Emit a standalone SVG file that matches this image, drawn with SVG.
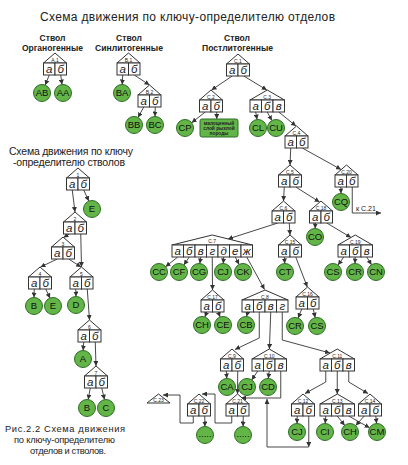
<svg xmlns="http://www.w3.org/2000/svg" width="408" height="465" viewBox="0 0 408 465">
<defs>
<marker id="ah" markerUnits="userSpaceOnUse" markerWidth="5" markerHeight="5" refX="5" refY="2.5" orient="auto"><path d="M0,0 L5,2.5 L0,5 z" fill="#333"/></marker>
<style>
text{font-family:"Liberation Sans",Arial,sans-serif;fill:#222}
.bx{fill:#fff;stroke:#333;stroke-width:1}
.rf{fill:#fff;stroke:#333;stroke-width:1;stroke-linejoin:miter}
.lt{font-style:italic;font-size:11.5px;text-anchor:middle}
.rl{font-size:5px;text-anchor:middle}
.cr{fill:#63b548;stroke:#2d6e24;stroke-width:1}
.ct{font-size:9.5px;text-anchor:middle;fill:#111}
.ln{fill:none;stroke:#333;stroke-width:0.9;marker-end:url(#ah)}
.ti{font-size:12px}
.lh{font-size:10.5px}
.cp{font-size:9.3px}
.st{font-size:8.5px;font-weight:bold;text-anchor:middle}
</style>
</defs>
<rect width="408" height="465" fill="#fff"/>
<g id="titles">
<text class="ti" x="40" y="21" textLength="295" lengthAdjust="spacing">Схема движения по ключу-определителю отделов</text>
<text class="st" x="52.5" y="40.5">Ствол</text>
<text class="st" x="52.5" y="50.5" textLength="61" lengthAdjust="spacingAndGlyphs">Органогенные</text>
<text class="st" x="129" y="40.5">Ствол</text>
<text class="st" x="129" y="50.5" textLength="68" lengthAdjust="spacingAndGlyphs">Синлитогенные</text>
<text class="st" x="237" y="40.5">Ствол</text>
<text class="st" x="237.5" y="50.5" textLength="71" lengthAdjust="spacingAndGlyphs">Постлитогенные</text>
<text class="lh" x="9" y="155" textLength="124" lengthAdjust="spacing">Схема движения по ключу</text>
<text class="lh" x="13" y="166" textLength="112" lengthAdjust="spacing">-определителю стволов</text>
<text class="cp" x="5" y="432" textLength="120" lengthAdjust="spacing">Рис.2.2  Схема движения</text>
<text class="cp" x="14" y="443" textLength="101" lengthAdjust="spacing">по ключу-определителю</text>
<text class="cp" x="30" y="454" textLength="76" lengthAdjust="spacing">отделов и стволов.</text>
<text x="356" y="210.5" font-size="7">к С.21</text>
</g>

<g id="connectors">
<line class="ln" x1="49.25" y1="75" x2="45.2" y2="85.1"/>
<line class="ln" x1="60.75" y1="75" x2="62" y2="84.6"/>
<line class="ln" x1="122.75" y1="75" x2="122.2" y2="84.5"/>
<line class="ln" x1="134.25" y1="75" x2="149.5" y2="85"/>
<line class="ln" x1="143.75" y1="107" x2="138" y2="117.5"/>
<line class="ln" x1="155.25" y1="107" x2="155" y2="116.5"/>
<line class="ln" x1="232.25" y1="76" x2="211.5" y2="90"/>
<line class="ln" x1="243.75" y1="76" x2="266.8" y2="90"/>
<line class="ln" x1="205.25" y1="112" x2="191.7" y2="122.7"/>
<line class="ln" x1="216.75" y1="112" x2="216.75" y2="119"/>
<line class="ln" x1="255.75" y1="112" x2="257" y2="119.5"/>
<line class="ln" x1="267.25" y1="112" x2="271.9" y2="120.5"/>
<line class="ln" x1="278.75" y1="112" x2="296" y2="126"/>
<line class="ln" x1="290.75" y1="148" x2="290" y2="165"/>
<line class="ln" x1="302.25" y1="148" x2="341" y2="169.5"/>
<line class="ln" x1="284.25" y1="187" x2="283.5" y2="201"/>
<line class="ln" x1="295.75" y1="187" x2="319.5" y2="202"/>
<line class="ln" x1="340.75" y1="187" x2="341" y2="193.5"/>
<polyline class="ln" points="352.25,187 352.25,213 381,213"/>
<line class="ln" x1="277.75" y1="223" x2="228" y2="239"/>
<line class="ln" x1="289.25" y1="223" x2="290" y2="235"/>
<line class="ln" x1="315.25" y1="223" x2="315.2" y2="228.5"/>
<line class="ln" x1="326.75" y1="223" x2="351" y2="237.5"/>
<line class="ln" x1="284.25" y1="257" x2="284.8" y2="263.5"/>
<line class="ln" x1="295.75" y1="257" x2="307.3" y2="287"/>
<line class="ln" x1="343.75" y1="257" x2="338" y2="265.1"/>
<line class="ln" x1="355.25" y1="257" x2="355" y2="263.5"/>
<line class="ln" x1="366.75" y1="257" x2="371.5" y2="264.8"/>
<line class="ln" x1="301.75" y1="309" x2="298.1" y2="318.1"/>
<line class="ln" x1="313.25" y1="309" x2="315.2" y2="317.7"/>
<line class="ln" x1="177.75" y1="257" x2="165.6" y2="266.7"/>
<line class="ln" x1="189.25" y1="257" x2="183.8" y2="265"/>
<line class="ln" x1="200.75" y1="257" x2="199.8" y2="263.6"/>
<line class="ln" x1="212.25" y1="257" x2="212.5" y2="290"/>
<line class="ln" x1="223.75" y1="257" x2="223.2" y2="263.5"/>
<line class="ln" x1="235.25" y1="257" x2="239.1" y2="264.5"/>
<line class="ln" x1="246.75" y1="257" x2="264.5" y2="289.5"/>
<line class="ln" x1="206.75" y1="312" x2="204.9" y2="317"/>
<line class="ln" x1="218.25" y1="312" x2="220.1" y2="317"/>
<line class="ln" x1="247.75" y1="312" x2="246.5" y2="316.6"/>
<polyline class="ln" points="259.25,312 259.25,338 235,349.5"/>
<line class="ln" x1="270.75" y1="312" x2="269.4" y2="349"/>
<polyline class="ln" points="282.25,312 282.25,340 330,353"/>
<line class="ln" x1="226.25" y1="371" x2="226.8" y2="378.5"/>
<line class="ln" x1="237.75" y1="371" x2="237.5" y2="394"/>
<line class="ln" x1="257.75" y1="371" x2="251.7" y2="380"/>
<line class="ln" x1="269.25" y1="371" x2="268.3" y2="378.5"/>
<polyline class="ln" points="280.75,371 280.75,398 241,398"/>
<polyline class="ln" points="325.75,371 325.75,382 305,393.5"/>
<line class="ln" x1="337.25" y1="371" x2="337.25" y2="394"/>
<polyline class="ln" points="348.75,371 348.75,382 368,393.5"/>
<line class="ln" x1="297.25" y1="416" x2="297" y2="423.5"/>
<line class="ln" x1="308.75" y1="416" x2="308.75" y2="447"/>
<polyline class="ln" points="308.75,447 267,447 267,399"/>
<line class="ln" x1="325.75" y1="416" x2="325.2" y2="423.5"/>
<line class="ln" x1="337.25" y1="416" x2="344.7" y2="425.4"/>
<line class="ln" x1="348.75" y1="416" x2="369.6" y2="427.8"/>
<line class="ln" x1="364.25" y1="416" x2="355.7" y2="425.6"/>
<line class="ln" x1="375.75" y1="416" x2="376.6" y2="423.5"/>
<polyline class="ln" points="231.75,416 231.75,423 215,423 215,394 202,394"/>
<line class="ln" x1="243.25" y1="416" x2="243.1" y2="426.5"/>
<polyline class="ln" points="193.25,416 193.25,423 180,423 180,395 163,395"/>
<line class="ln" x1="204.75" y1="416" x2="204.9" y2="426.5"/>
<line class="ln" x1="72.25" y1="190" x2="75" y2="212"/>
<line class="ln" x1="83.75" y1="190" x2="88.8" y2="201.1"/>
<line class="ln" x1="69.25" y1="234" x2="63.5" y2="237.5"/>
<line class="ln" x1="80.75" y1="234" x2="81.5" y2="267"/>
<line class="ln" x1="57.25" y1="259" x2="40.5" y2="267"/>
<line class="ln" x1="68.75" y1="259" x2="81" y2="267"/>
<line class="ln" x1="34.25" y1="289" x2="34" y2="297.5"/>
<line class="ln" x1="45.75" y1="289" x2="50" y2="298.3"/>
<line class="ln" x1="75.75" y1="289" x2="76" y2="296.5"/>
<line class="ln" x1="87.25" y1="289" x2="89.5" y2="320"/>
<line class="ln" x1="83.75" y1="342" x2="83.1" y2="350.5"/>
<line class="ln" x1="95.25" y1="342" x2="96" y2="366"/>
<line class="ln" x1="90.25" y1="388" x2="88.2" y2="399.6"/>
<line class="ln" x1="101.75" y1="388" x2="104.5" y2="399.6"/>
</g>

<g id="A1"><polygon class="rf" points="43.5,63 55,53 66.5,63"/><rect class="bx" x="43.5" y="63" width="11.5" height="12"/><rect class="bx" x="55" y="63" width="11.5" height="12"/><text class="rl" x="55" y="61.5">A.1</text><text class="lt" x="49.25" y="73">а</text><text class="lt" x="60.75" y="73">б</text></g>
<g id="B1"><polygon class="rf" points="117,63 128.5,53 140,63"/><rect class="bx" x="117" y="63" width="11.5" height="12"/><rect class="bx" x="128.5" y="63" width="11.5" height="12"/><text class="rl" x="128.5" y="61.5">B.1</text><text class="lt" x="122.75" y="73">а</text><text class="lt" x="134.25" y="73">б</text></g>
<g id="B2"><polygon class="rf" points="138,95 149.5,85 161,95"/><rect class="bx" x="138" y="95" width="11.5" height="12"/><rect class="bx" x="149.5" y="95" width="11.5" height="12"/><text class="rl" x="149.5" y="93.5">B.2</text><text class="lt" x="143.75" y="105">а</text><text class="lt" x="155.25" y="105">б</text></g>
<g id="C1"><polygon class="rf" points="226.5,64 238,54 249.5,64"/><rect class="bx" x="226.5" y="64" width="11.5" height="12"/><rect class="bx" x="238" y="64" width="11.5" height="12"/><text class="rl" x="238" y="62.5">C.1</text><text class="lt" x="232.25" y="74">а</text><text class="lt" x="243.75" y="74">б</text></g>
<g id="C2"><polygon class="rf" points="199.5,100 211,90 222.5,100"/><rect class="bx" x="199.5" y="100" width="11.5" height="12"/><rect class="bx" x="211" y="100" width="11.5" height="12"/><text class="rl" x="211" y="98.5">C.2</text><text class="lt" x="205.25" y="110">а</text><text class="lt" x="216.75" y="110">б</text></g>
<g id="C3"><polygon class="rf" points="250,100 267.25,90 284.5,100"/><rect class="bx" x="250" y="100" width="11.5" height="12"/><rect class="bx" x="261.5" y="100" width="11.5" height="12"/><rect class="bx" x="273" y="100" width="11.5" height="12"/><text class="rl" x="267.25" y="98.5">C.3</text><text class="lt" x="255.75" y="110">а</text><text class="lt" x="267.25" y="110">б</text><text class="lt" x="278.75" y="110">в</text></g>
<g id="C4"><polygon class="rf" points="285,136 296.5,126 308,136"/><rect class="bx" x="285" y="136" width="11.5" height="12"/><rect class="bx" x="296.5" y="136" width="11.5" height="12"/><text class="rl" x="296.5" y="134.5">C.4</text><text class="lt" x="290.75" y="146">а</text><text class="lt" x="302.25" y="146">б</text></g>
<g id="C5"><polygon class="rf" points="278.5,175 290,165 301.5,175"/><rect class="bx" x="278.5" y="175" width="11.5" height="12"/><rect class="bx" x="290" y="175" width="11.5" height="12"/><text class="rl" x="290" y="173.5">C.5</text><text class="lt" x="284.25" y="185">а</text><text class="lt" x="295.75" y="185">б</text></g>
<g id="C20"><polygon class="rf" points="335,175 346.5,165 358,175"/><rect class="bx" x="335" y="175" width="11.5" height="12"/><rect class="bx" x="346.5" y="175" width="11.5" height="12"/><text class="rl" x="346.5" y="173.5">C.20</text><text class="lt" x="340.75" y="185">а</text><text class="lt" x="352.25" y="185">б</text></g>
<g id="C6"><polygon class="rf" points="272,211 283.5,201 295,211"/><rect class="bx" x="272" y="211" width="11.5" height="12"/><rect class="bx" x="283.5" y="211" width="11.5" height="12"/><text class="rl" x="283.5" y="209.5">C.6</text><text class="lt" x="277.75" y="221">а</text><text class="lt" x="289.25" y="221">б</text></g>
<g id="C18"><polygon class="rf" points="309.5,211 321,201 332.5,211"/><rect class="bx" x="309.5" y="211" width="11.5" height="12"/><rect class="bx" x="321" y="211" width="11.5" height="12"/><text class="rl" x="321" y="209.5">C.18</text><text class="lt" x="315.25" y="221">а</text><text class="lt" x="326.75" y="221">б</text></g>
<g id="C15"><polygon class="rf" points="278.5,245 290,235 301.5,245"/><rect class="bx" x="278.5" y="245" width="11.5" height="12"/><rect class="bx" x="290" y="245" width="11.5" height="12"/><text class="rl" x="290" y="243.5">C.15</text><text class="lt" x="284.25" y="255">а</text><text class="lt" x="295.75" y="255">б</text></g>
<g id="C19"><polygon class="rf" points="338,245 355.25,235 372.5,245"/><rect class="bx" x="338" y="245" width="11.5" height="12"/><rect class="bx" x="349.5" y="245" width="11.5" height="12"/><rect class="bx" x="361" y="245" width="11.5" height="12"/><text class="rl" x="355.25" y="243.5">C.19</text><text class="lt" x="343.75" y="255">а</text><text class="lt" x="355.25" y="255">б</text><text class="lt" x="366.75" y="255">в</text></g>
<g id="C16"><polygon class="rf" points="296,297 307.5,287 319,297"/><rect class="bx" x="296" y="297" width="11.5" height="12"/><rect class="bx" x="307.5" y="297" width="11.5" height="12"/><text class="rl" x="307.5" y="295.5">C.16</text><text class="lt" x="301.75" y="307">а</text><text class="lt" x="313.25" y="307">б</text></g>
<g id="C7"><polygon class="rf" points="172,245 212.25,235 252.5,245"/><rect class="bx" x="172" y="245" width="11.5" height="12"/><rect class="bx" x="183.5" y="245" width="11.5" height="12"/><rect class="bx" x="195" y="245" width="11.5" height="12"/><rect class="bx" x="206.5" y="245" width="11.5" height="12"/><rect class="bx" x="218" y="245" width="11.5" height="12"/><rect class="bx" x="229.5" y="245" width="11.5" height="12"/><rect class="bx" x="241" y="245" width="11.5" height="12"/><text class="rl" x="212.25" y="243" font-size="6">C.7</text><text class="lt" x="177.75" y="255">а</text><text class="lt" x="189.25" y="255">б</text><text class="lt" x="200.75" y="255">в</text><text class="lt" x="212.25" y="255">г</text><text class="lt" x="223.75" y="255">д</text><text class="lt" x="235.25" y="255">е</text><text class="lt" x="246.75" y="255">ж</text></g>
<g id="C17"><polygon class="rf" points="201,300 212.5,290 224,300"/><rect class="bx" x="201" y="300" width="11.5" height="12"/><rect class="bx" x="212.5" y="300" width="11.5" height="12"/><text class="rl" x="212.5" y="298.5">C.17</text><text class="lt" x="206.75" y="310">а</text><text class="lt" x="218.25" y="310">б</text></g>
<g id="C8"><polygon class="rf" points="242,300 265,290 288,300"/><rect class="bx" x="242" y="300" width="11.5" height="12"/><rect class="bx" x="253.5" y="300" width="11.5" height="12"/><rect class="bx" x="265" y="300" width="11.5" height="12"/><rect class="bx" x="276.5" y="300" width="11.5" height="12"/><text class="rl" x="265" y="298.5">C.8</text><text class="lt" x="247.75" y="310">а</text><text class="lt" x="259.25" y="310">б</text><text class="lt" x="270.75" y="310">в</text><text class="lt" x="282.25" y="310">г</text></g>
<g id="C9"><polygon class="rf" points="220.5,359 232,349 243.5,359"/><rect class="bx" x="220.5" y="359" width="11.5" height="12"/><rect class="bx" x="232" y="359" width="11.5" height="12"/><text class="rl" x="232" y="357.5">C.9</text><text class="lt" x="226.25" y="369">а</text><text class="lt" x="237.75" y="369">б</text></g>
<g id="C10"><polygon class="rf" points="252,359 269.25,349 286.5,359"/><rect class="bx" x="252" y="359" width="11.5" height="12"/><rect class="bx" x="263.5" y="359" width="11.5" height="12"/><rect class="bx" x="275" y="359" width="11.5" height="12"/><text class="rl" x="269.25" y="357.5">C.10</text><text class="lt" x="257.75" y="369">а</text><text class="lt" x="269.25" y="369">б</text><text class="lt" x="280.75" y="369">в</text></g>
<g id="C11"><polygon class="rf" points="320,359 337.25,349 354.5,359"/><rect class="bx" x="320" y="359" width="11.5" height="12"/><rect class="bx" x="331.5" y="359" width="11.5" height="12"/><rect class="bx" x="343" y="359" width="11.5" height="12"/><text class="rl" x="337.25" y="357.5">C.11</text><text class="lt" x="325.75" y="369">а</text><text class="lt" x="337.25" y="369">б</text><text class="lt" x="348.75" y="369">в</text></g>
<g id="C12"><polygon class="rf" points="291.5,404 303,394 314.5,404"/><rect class="bx" x="291.5" y="404" width="11.5" height="12"/><rect class="bx" x="303" y="404" width="11.5" height="12"/><text class="rl" x="303" y="402.5">C.12</text><text class="lt" x="297.25" y="414">а</text><text class="lt" x="308.75" y="414">б</text></g>
<g id="C13"><polygon class="rf" points="320,404 337.25,394 354.5,404"/><rect class="bx" x="320" y="404" width="11.5" height="12"/><rect class="bx" x="331.5" y="404" width="11.5" height="12"/><rect class="bx" x="343" y="404" width="11.5" height="12"/><text class="rl" x="337.25" y="402.5">C.13</text><text class="lt" x="325.75" y="414">а</text><text class="lt" x="337.25" y="414">б</text><text class="lt" x="348.75" y="414">в</text></g>
<g id="C14"><polygon class="rf" points="358.5,404 370,394 381.5,404"/><rect class="bx" x="358.5" y="404" width="11.5" height="12"/><rect class="bx" x="370" y="404" width="11.5" height="12"/><text class="rl" x="370" y="402.5">C.14</text><text class="lt" x="364.25" y="414">а</text><text class="lt" x="375.75" y="414">б</text></g>
<g id="C21"><polygon class="rf" points="226,404 237.5,394 249,404"/><rect class="bx" x="226" y="404" width="11.5" height="12"/><rect class="bx" x="237.5" y="404" width="11.5" height="12"/><text class="rl" x="237.5" y="402.5">C.21</text><text class="lt" x="231.75" y="414">а</text><text class="lt" x="243.25" y="414">б</text></g>
<g id="C22"><polygon class="rf" points="187.5,404 199,394 210.5,404"/><rect class="bx" x="187.5" y="404" width="11.5" height="12"/><rect class="bx" x="199" y="404" width="11.5" height="12"/><text class="rl" x="199" y="402.5">C.22</text><text class="lt" x="193.25" y="414">а</text><text class="lt" x="204.75" y="414">б</text></g>
<g id="C23"><polygon class="rf" points="147,403 158.5,394 170,403"/><text class="rl" x="158.5" y="401.5">C.23</text></g>

<g id="N1"><polygon class="rf" points="66.5,178 78,168 89.5,178"/><rect class="bx" x="66.5" y="178" width="11.5" height="12"/><rect class="bx" x="78" y="178" width="11.5" height="12"/><text class="rl" x="78" y="176.5" font-size="6">1</text><text class="lt" x="72.25" y="188">а</text><text class="lt" x="83.75" y="188">б</text></g>
<g id="N2"><polygon class="rf" points="63.5,222 75,212 86.5,222"/><rect class="bx" x="63.5" y="222" width="11.5" height="12"/><rect class="bx" x="75" y="222" width="11.5" height="12"/><text class="rl" x="75" y="220.5" font-size="6">2</text><text class="lt" x="69.25" y="232">а</text><text class="lt" x="80.75" y="232">б</text></g>
<g id="N3"><polygon class="rf" points="51.5,247 63,237 74.5,247"/><rect class="bx" x="51.5" y="247" width="11.5" height="12"/><rect class="bx" x="63" y="247" width="11.5" height="12"/><text class="rl" x="63" y="245.5" font-size="6">3</text><text class="lt" x="57.25" y="257">а</text><text class="lt" x="68.75" y="257">б</text></g>
<g id="N4"><polygon class="rf" points="28.5,277 40,267 51.5,277"/><rect class="bx" x="28.5" y="277" width="11.5" height="12"/><rect class="bx" x="40" y="277" width="11.5" height="12"/><text class="rl" x="40" y="275.5" font-size="6">4</text><text class="lt" x="34.25" y="287">а</text><text class="lt" x="45.75" y="287">б</text></g>
<g id="N5"><polygon class="rf" points="70,277 81.5,267 93,277"/><rect class="bx" x="70" y="277" width="11.5" height="12"/><rect class="bx" x="81.5" y="277" width="11.5" height="12"/><text class="rl" x="81.5" y="275.5" font-size="6">5</text><text class="lt" x="75.75" y="287">а</text><text class="lt" x="87.25" y="287">б</text></g>
<g id="N6"><polygon class="rf" points="78,330 89.5,320 101,330"/><rect class="bx" x="78" y="330" width="11.5" height="12"/><rect class="bx" x="89.5" y="330" width="11.5" height="12"/><text class="rl" x="89.5" y="328.5" font-size="6">6</text><text class="lt" x="83.75" y="340">а</text><text class="lt" x="95.25" y="340">б</text></g>
<g id="N7"><polygon class="rf" points="84.5,376 96,366 107.5,376"/><rect class="bx" x="84.5" y="376" width="11.5" height="12"/><rect class="bx" x="96" y="376" width="11.5" height="12"/><text class="rl" x="96" y="374.5" font-size="6">7</text><text class="lt" x="90.25" y="386">а</text><text class="lt" x="101.75" y="386">б</text></g>

<g id="circles">
<g id="AB"><circle class="cr" cx="42" cy="93" r="8.5"/><text class="ct" x="42" y="96.4">AB</text></g>
<g id="AA"><circle class="cr" cx="63" cy="93" r="8.5"/><text class="ct" x="63" y="96.4">AA</text></g>
<g id="BA"><circle class="cr" cx="122" cy="93" r="8.5"/><text class="ct" x="122" y="96.4">BA</text></g>
<g id="BB"><circle class="cr" cx="134" cy="125" r="8.5"/><text class="ct" x="134" y="128.4">BB</text></g>
<g id="BC"><circle class="cr" cx="155" cy="125" r="8.5"/><text class="ct" x="155" y="128.4">BC</text></g>
<g id="CP"><circle class="cr" cx="185" cy="128" r="8.5"/><text class="ct" x="185" y="131.4">CP</text></g>
<g id="layer"><rect class="cr" x="200" y="119" width="38" height="18" rx="2"/><text x="219" y="124.5" font-size="4.8" font-weight="bold" text-anchor="middle" fill="#111">малоценный</text><text x="219" y="129.8" font-size="4.8" font-weight="bold" text-anchor="middle" fill="#111">слой рыхлой</text><text x="219" y="135" font-size="4.8" font-weight="bold" text-anchor="middle" fill="#111">породы</text></g>
<g id="CL"><circle class="cr" cx="258" cy="128" r="8.5"/><text class="ct" x="258" y="131.4">CL</text></g>
<g id="CU"><circle class="cr" cx="276" cy="128" r="8.5"/><text class="ct" x="276" y="131.4">CU</text></g>
<g id="CQ"><circle class="cr" cx="341" cy="202" r="8.5"/><text class="ct" x="341" y="205.4">CQ</text></g>
<g id="CO"><circle class="cr" cx="315" cy="237" r="8.5"/><text class="ct" x="315" y="240.4">CO</text></g>
<g id="CC"><circle class="cr" cx="159" cy="272" r="8.5"/><text class="ct" x="159" y="275.4">CC</text></g>
<g id="CF"><circle class="cr" cx="179" cy="272" r="8.5"/><text class="ct" x="179" y="275.4">CF</text></g>
<g id="CG"><circle class="cr" cx="199" cy="272" r="8.5"/><text class="ct" x="199" y="275.4">CG</text></g>
<g id="CJ1"><circle class="cr" cx="223" cy="272" r="8.5"/><text class="ct" x="223" y="275.4">CJ</text></g>
<g id="CK"><circle class="cr" cx="243" cy="272" r="8.5"/><text class="ct" x="243" y="275.4">CK</text></g>
<g id="CT"><circle class="cr" cx="285" cy="272" r="8.5"/><text class="ct" x="285" y="275.4">CT</text></g>
<g id="CS1"><circle class="cr" cx="333" cy="272" r="8.5"/><text class="ct" x="333" y="275.4">CS</text></g>
<g id="CR1"><circle class="cr" cx="355" cy="272" r="8.5"/><text class="ct" x="355" y="275.4">CR</text></g>
<g id="CN"><circle class="cr" cx="376" cy="272" r="8.5"/><text class="ct" x="376" y="275.4">CN</text></g>
<g id="CR2"><circle class="cr" cx="295" cy="326" r="8.5"/><text class="ct" x="295" y="329.4">CR</text></g>
<g id="CS2"><circle class="cr" cx="317" cy="326" r="8.5"/><text class="ct" x="317" y="329.4">CS</text></g>
<g id="CH1"><circle class="cr" cx="202" cy="325" r="8.5"/><text class="ct" x="202" y="328.4">CH</text></g>
<g id="CE"><circle class="cr" cx="223" cy="325" r="8.5"/><text class="ct" x="223" y="328.4">CE</text></g>
<g id="CB"><circle class="cr" cx="246" cy="325" r="8.5"/><text class="ct" x="246" y="328.4">CB</text></g>
<g id="CA"><circle class="cr" cx="227" cy="387" r="8.5"/><text class="ct" x="227" y="390.4">CA</text></g>
<g id="CJ2"><circle class="cr" cx="247" cy="387" r="8.5"/><text class="ct" x="247" y="390.4">CJ</text></g>
<g id="CD"><circle class="cr" cx="268" cy="387" r="8.5"/><text class="ct" x="268" y="390.4">CD</text></g>
<g id="DOT1"><circle class="cr" cx="205" cy="435" r="8.5"/><text class="ct" x="205" y="437">.....</text></g>
<g id="DOT2"><circle class="cr" cx="243" cy="435" r="8.5"/><text class="ct" x="243" y="437">.....</text></g>
<g id="CJ3"><circle class="cr" cx="297" cy="432" r="8.5"/><text class="ct" x="297" y="435.4">CJ</text></g>
<g id="CI"><circle class="cr" cx="325" cy="432" r="8.5"/><text class="ct" x="325" y="435.4">CI</text></g>
<g id="CH2"><circle class="cr" cx="350" cy="432" r="8.5"/><text class="ct" x="350" y="435.4">CH</text></g>
<g id="CM"><circle class="cr" cx="377" cy="432" r="8.5"/><text class="ct" x="377" y="435.4">CM</text></g>
<g id="E1"><circle class="cr" cx="92" cy="209" r="8.5"/><text class="ct" x="92" y="212.4">E</text></g>
<g id="B_"><circle class="cr" cx="34" cy="306" r="8.5"/><text class="ct" x="34" y="309.4">B</text></g>
<g id="E2"><circle class="cr" cx="53" cy="306" r="8.5"/><text class="ct" x="53" y="309.4">E</text></g>
<g id="D"><circle class="cr" cx="76" cy="305" r="8.5"/><text class="ct" x="76" y="308.4">D</text></g>
<g id="A"><circle class="cr" cx="83" cy="359" r="8.5"/><text class="ct" x="83" y="362.4">A</text></g>
<g id="B2c"><circle class="cr" cx="87" cy="408" r="8.5"/><text class="ct" x="87" y="411.4">B</text></g>
<g id="C"><circle class="cr" cx="106" cy="408" r="8.5"/><text class="ct" x="106" y="411.4">C</text></g>
</g>
</svg>
